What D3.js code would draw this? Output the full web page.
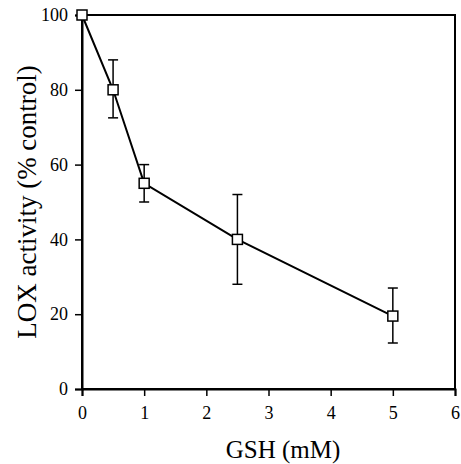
<!DOCTYPE html>
<html lang="en">
<head>
    <meta charset="UTF-8">
    <title>LOX activity vs GSH</title>
</head>
<body style="margin:0; background:#fff">
    <div id="chart-container"></div>
    <script src="https://d3js.org/d3.v7.min.js"></script>
    <script>
        // data
        const gsh = [0, 0.5, 1, 2.5, 5];
        const activity = [100, 80, 55, 40, 19.5];
        const errHigh = [100, 88, 60, 52, 27];
        const errLow = [100, 72.5, 50, 28, 12.3];
        const xTicks = [0, 1, 2, 3, 4, 5, 6];
        const yTicks = [0, 20, 40, 60, 80, 100];

        const FONT = "Liberation Serif";
        const MARGIN = {LEFT: 82, TOP: 15};

        const svg = d3.select("#chart-container").append("svg")
            .attr("width", 461)
            .attr("height", 464)
            .attr("font-family", FONT);
        const g = svg.append("g")
            .attr("transform", `translate(${MARGIN.LEFT}, ${MARGIN.TOP})`);

        const x = d3.scaleLinear().domain([0, 6]).range([0, 373]);
        const y = d3.scaleLinear().domain([0, 100]).range([374, 0]);

        // frame
        g.append("rect")
            .attr("x", 0).attr("y", 0)
            .attr("width", x(6)).attr("height", y(0))
            .attr("fill", "none")
            .attr("stroke", "#000")
            .attr("stroke-width", 2);

        const xAxis = g.append("g")
            .attr("transform", `translate(0, ${y(0)})`)
            .call(d3.axisBottom(x).tickValues(xTicks).tickSize(7).tickPadding(10).tickFormat(d3.format("d")));
        const yAxis = g.append("g")
            .call(d3.axisLeft(y).tickValues(yTicks).tickSize(7).tickPadding(7).tickFormat(d3.format("d")));

        [xAxis, yAxis].forEach(a => {
            a.attr("font-family", FONT).attr("font-size", 18);
            a.select(".domain").attr("stroke-width", 2);
            a.selectAll(".tick line").attr("stroke-width", 1.5);
            a.selectAll(".tick text")
                .style("font-family", FONT)
                .style("font-size", "18px")
                .attr("fill", "#000");
        });

        // axis titles
        svg.append("text")
            .attr("x", 283)
            .attr("y", 458)
            .attr("text-anchor", "middle")
            .style("font-family", FONT)
            .style("font-size", "25px")
            .text("GSH (mM)");
        svg.append("text")
            .attr("transform", "translate(36, 202) rotate(-90)")
            .attr("text-anchor", "middle")
            .style("font-family", FONT)
            .style("font-size", "27px")
            .text("LOX activity (% control)");

        const pts = gsh.map((d, i) => ({x: d, y: activity[i], hi: errHigh[i], lo: errLow[i]}));

        // error bars
        const eb = g.selectAll(".err").data(pts.filter(d => d.hi !== d.lo)).enter().append("g")
            .attr("class", "err")
            .attr("stroke", "#000")
            .attr("stroke-width", 1.5);
        eb.append("line")
            .attr("x1", d => x(d.x)).attr("x2", d => x(d.x))
            .attr("y1", d => y(d.hi)).attr("y2", d => y(d.lo));
        eb.append("line")
            .attr("x1", d => x(d.x) - 5).attr("x2", d => x(d.x) + 5)
            .attr("y1", d => y(d.hi)).attr("y2", d => y(d.hi));
        eb.append("line")
            .attr("x1", d => x(d.x) - 5).attr("x2", d => x(d.x) + 5)
            .attr("y1", d => y(d.lo)).attr("y2", d => y(d.lo));

        // connecting line
        g.append("path")
            .datum(pts)
            .attr("fill", "none")
            .attr("stroke", "#000")
            .attr("stroke-width", 2)
            .attr("d", d3.line().x(d => x(d.x)).y(d => y(d.y)));

        // square markers
        g.selectAll(".pt").data(pts).enter().append("rect")
            .attr("class", "pt")
            .attr("x", d => x(d.x) - 5)
            .attr("y", d => y(d.y) - 5)
            .attr("width", 10)
            .attr("height", 10)
            .attr("fill", "#fff")
            .attr("stroke", "#000")
            .attr("stroke-width", 1.5);
    </script>
</body>
</html>
